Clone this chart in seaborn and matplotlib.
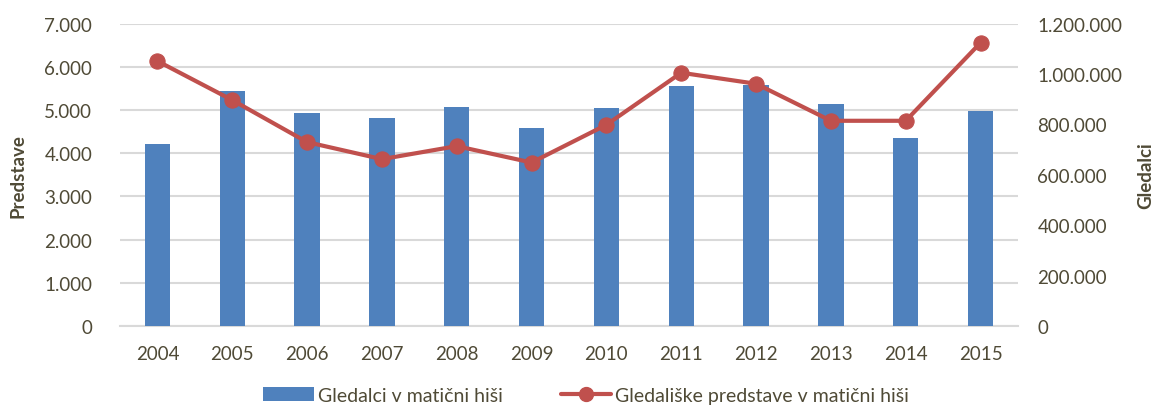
import matplotlib
matplotlib.use("Agg")
import matplotlib.pyplot as plt
import seaborn as sns
import pandas as pd
import numpy as np
from matplotlib.ticker import FuncFormatter
from matplotlib.lines import Line2D
from matplotlib.patches import Patch

years = ["2004", "2005", "2006", "2007", "2008", "2009", "2010", "2011", "2012", "2013", "2014", "2015"]
gledalci = [722000, 933000, 845000, 826000, 869000, 785000, 867000, 951000, 958000, 883000, 748000, 853000]
predstave = [6135, 5231, 4258, 3864, 4165, 3785, 4659, 5864, 5609, 4752, 4752, 6560]

bar_label = "Gledalci v matični hiši"
line_label = "Gledališke predstave v matični hiši"
left_title = "Predstave"
right_title = "Gledalci"

sns.set_theme(style="white")
plt.rcParams['font.family'] = ['Lato', 'DejaVu Sans']
txt = "#4f4a36"
blue = "#4f81bd"
red = "#c0504d"
grid = "#d9d9d9"

df = pd.DataFrame({"year": years, "gledalci": gledalci, "predstave": predstave})

fig = plt.figure(figsize=(11.56, 4.14), dpi=100)
axL = fig.add_axes([120/1156, 1 - 327/414, (1018-120)/1156, (327-24.7)/414])
axR = axL.twinx()

# Gridlines on left axis scale
axL.set_ylim(0, 7000)
axL.set_yticks(np.arange(0, 7001, 1000))
axL.yaxis.grid(True, color=grid, linewidth=1.5)
axL.set_axisbelow(True)

# Bars on right axis (Gledalci)
sns.barplot(data=df, x="year", y="gledalci", ax=axR, color=blue, width=0.34,
            saturation=1, edgecolor="none")
axR.grid(False)

# Line on a top axis sharing left scale so it draws above bars
axLine = axR.twinx()
axLine.set_ylim(0, 7000)
axLine.set_yticks([])
sns.lineplot(x=np.arange(len(years)), y=predstave, ax=axLine, color=red,
             linewidth=3, marker="o", markersize=11, markeredgecolor=red)

axR.yaxis.tick_right()
axR.set_ylim(0, 1200000)
axR.set_yticks(np.arange(0, 1200001, 200000))

for a in (axL, axR, axLine):
    a.set_xlim(-0.5, len(years) - 0.5)

axL.set_xticks(np.arange(len(years)))
axL.set_xticklabels(years)

fmt = lambda v, p: f"{int(v):,}".replace(",", ".")
axL.yaxis.set_major_formatter(FuncFormatter(fmt))
axR.yaxis.set_major_formatter(FuncFormatter(fmt))

for a in (axL, axR, axLine):
    for s in a.spines.values():
        s.set_visible(False)
axL.spines["bottom"].set_visible(True)
axL.spines["bottom"].set_color(grid)
axL.spines["bottom"].set_linewidth(1.5)

axL.tick_params(axis="y", labelsize=13.5, colors=txt, length=0, pad=20)
axL.tick_params(axis="x", labelsize=13.5, colors=txt, length=0, pad=14)
axR.tick_params(axis="y", labelsize=13.5, colors=txt, length=0, pad=14,
                labelright=True, labelleft=False)
axR.tick_params(axis="x", length=0)
for a in (axL, axR, axLine):
    a.set_xlabel("")
    a.set_ylabel("")

fig.text(18/1156, 1 - 176/414, left_title, rotation=90, ha="center", va="center",
         fontsize=13.5, fontweight="bold", color=txt)
fig.text(1146/1156, 1 - 176/414, right_title, rotation=90, ha="center", va="center",
         fontsize=13.5, fontweight="bold", color=txt)

handles = [Patch(facecolor=blue, edgecolor="none"),
           Line2D([0], [0], color=red, linewidth=3, marker="o", markersize=10)]
fig.legend(handles, [bar_label, line_label], loc="lower center",
           bbox_to_anchor=(0.507, -0.02), ncol=2, frameon=False,
           fontsize=14, labelcolor=txt, handlelength=2.6, columnspacing=3.0,
           handletextpad=0.2)

fig.savefig("out.png", dpi=100)
